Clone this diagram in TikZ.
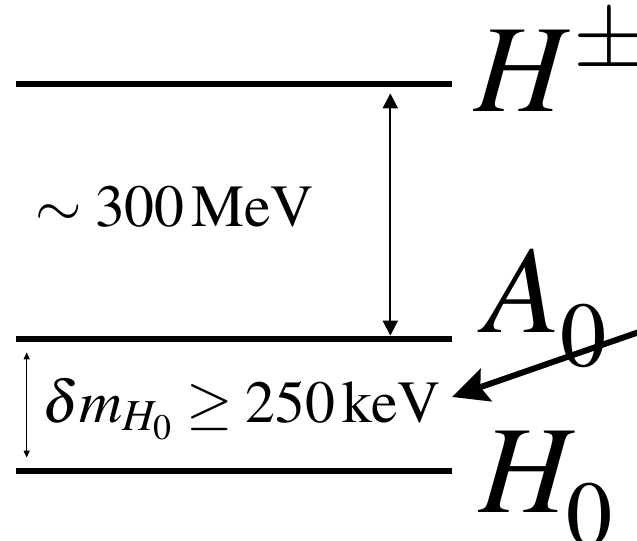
\documentclass[tikz,border=0pt]{standalone}
\usepackage{mathptmx}
\usetikzlibrary{arrows.meta,calc,positioning}
\tikzset{
  lvl/.style={fill=black,inner sep=0pt,minimum width=8.72cm,minimum height=0.12cm},
  plabel/.style={inner sep=0pt,anchor=base west,font=\fontsize{71}{74}\selectfont},
  elabel/.style={inner sep=0pt,anchor=base west,font=\fontsize{34}{38}\selectfont},
  gapbig/.style={{Triangle[length=0.3cm,width=0.3cm]}-{Triangle[length=0.3cm,width=0.3cm]},line width=0.04cm},
  gapsmall/.style={{Triangle[length=0.14cm,width=0.12cm]}-{Triangle[length=0.14cm,width=0.12cm]},line width=0.025cm},
  pointer/.style={-{Stealth[length=0.72cm,width=0.68cm,inset=0.12cm]},line width=0.12cm},
}
% subscript set lower than usual
\newcommand\lowsub[1]{\lower 8.5pt\hbox{$\scriptstyle #1$}}

\begin{document}
\begin{tikzpicture}[x=0.02cm,y=-0.02cm]
  \useasboundingbox (0,0) rectangle (637,541);
  % levels
  \node[lvl] (hpm) at (234,84) {};
  \node[lvl] (a0) at (234,339) {};
  \node[lvl] (h0) at (234,471) {};
  % particle names
  \node[plabel] (hpmname) at (474,112) {$H^{\pm}$};
  \node[plabel] (a0name) at (484,333) {$A_{\lowsub{0}}$};
  \node[plabel] (h0name) at (479,512) {$H_{\lowsub{0}}$};
  % mass splittings
  \node[elabel] (bigsplit) at (35,227) {$\sim 300\,\mathrm{MeV}$};
  \node[elabel] (smallsplit) at (42,422) {$\delta m_{H_0} \geq 250\,\mathrm{keV}$};
  \draw[gapbig,shorten <=0.12cm] ($(hpm.south east)+(-62,0)$) -- ($(a0.north east)+(-62,0)$);
  \draw[gapsmall,shorten <=0.2cm,shorten >=0.2cm] ($(a0.south west)+(11,0)$) -- ($(h0.north west)+(11,0)$);
  % pointer from the right
  \coordinate (src) at (642,331);
  \coordinate (tip) at (452,397);
  \draw[pointer] (src) -- (tip);
\end{tikzpicture}
\end{document}
